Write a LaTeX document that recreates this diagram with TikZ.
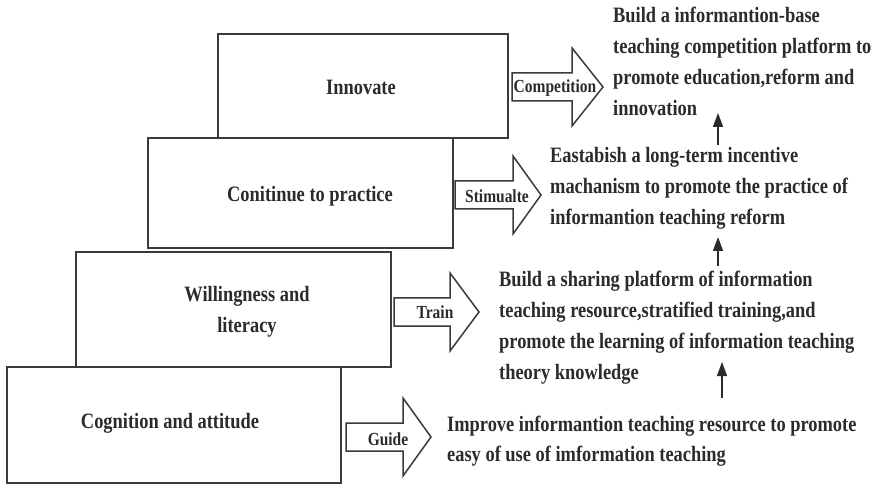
\documentclass[tikz,border=0pt]{standalone}
\usepackage{fontspec}
\setmainfont{Liberation Serif}[FakeStretch=0.84]
\usetikzlibrary{arrows.meta}
\definecolor{ink}{HTML}{2B2B2B}
\definecolor{edge}{HTML}{3A3A3A}
% multi-line text block whose reference point is the first baseline
\newcommand\textlines[1]{\begin{tabular}[t]{@{}l@{}}#1\end{tabular}}
% block arrow: shaft start, head start, tip, centre line
\newcommand\blockarrow[4]{%
  \draw[barrow] (#1,#4-14) -- (#2,#4-14) -- (#2,#4-39) -- (#3,#4)
    -- (#2,#4+39) -- (#2,#4+14) -- (#1,#4+14) -- cycle;}
\begin{document}
\begin{tikzpicture}[x=1bp,y=-1bp,
  stage/.style={draw=edge, line width=2bp, fill=white, rectangle, inner sep=0pt},
  stagetext/.style={text=ink, font=\fontsize{22}{31}\selectfont\bfseries, align=center, inner sep=0pt},
  barrow/.style={draw=edge, line width=1.5bp, fill=white, line join=miter},
  tag/.style={text=ink, font=\fontsize{18.5}{22}\selectfont\bfseries, inner sep=0pt},
  measure/.style={text=ink, font=\fontsize{22}{31}\selectfont\bfseries, anchor=base west, inner sep=0pt},
  up/.style={draw=ink, line width=1.6bp, -{Triangle[length=14bp,width=10bp]}}]
\useasboundingbox (0,0) rectangle (878,485);

% stair of stages
\node[stage, minimum width=290bp, minimum height=104bp] (innovbox) at (363,86) {};
\node[stage, minimum width=305bp, minimum height=110bp] (practbox) at (300.5,193) {};
\node[stage, minimum width=315bp, minimum height=115bp] (willbox) at (233.5,309.5) {};
\node[stage, minimum width=334bp, minimum height=116bp] (cogbox) at (174,425) {};

\node[stagetext] (innov) at (361,87) {Innovate};
\node[stagetext] (pract) at (310,196) {Conitinue to practice};
\node[stagetext] (will) at (247,312) {Willingness and\\ literacy};
\node[stagetext] (cog) at (170,423) {Cognition and attitude};

% block arrows towards the measures
\blockarrow{512}{572}{603}{87}
\blockarrow{455}{513}{541}{195}
\blockarrow{394}{450}{479}{312}
\blockarrow{346}{403}{431}{437}
\node[tag] (compet) at (555,88) {Competition};
\node[tag] (stim) at (497,196) {Stimualte};
\node[tag] (train) at (435,312) {Train};
\node[tag] (guide) at (388,439) {Guide};

% measures
\node[measure] (m4) at (613,23) {\textlines{Build a informantion-base\\ teaching competition platform to\\ promote education,reform and\\ innovation}};
\node[measure] (m3) at (550,163) {\textlines{Eastabish a long-term incentive\\ machanism to promote the practice of\\ informantion teaching reform}};
\node[measure] (m2) at (499,287) {\textlines{Build a sharing platform of information\\ teaching resource,stratified training,and\\ promote the learning of information teaching\\ theory knowledge}};
\node[measure] (m1) at (447,431) {\textlines{Improve informantion teaching resource to promote\\ easy of use of  imformation teaching}};

% progression between measures
\coordinate (a1s) at (722,398);
\coordinate (a1e) at (722,362);
\coordinate (a2s) at (718,266);
\coordinate (a2e) at (718,237);
\coordinate (a3s) at (718,145);
\coordinate (a3e) at (718,113);
\draw[up] (a1s) -- (a1e);
\draw[up] (a2s) -- (a2e);
\draw[up] (a3s) -- (a3e);
\end{tikzpicture}
\end{document}
